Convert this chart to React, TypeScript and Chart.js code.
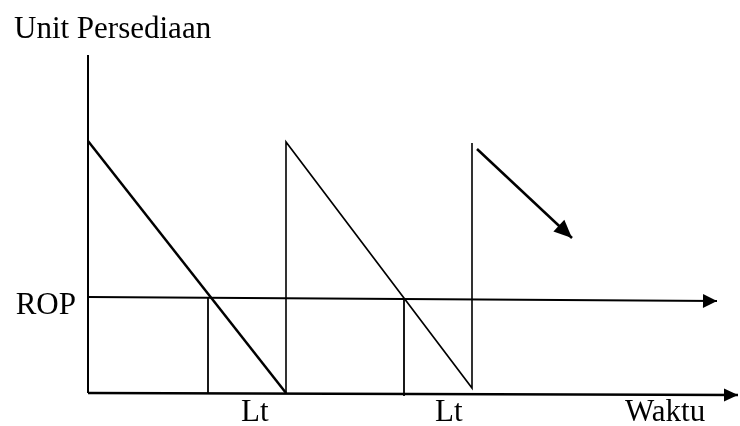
import React, { useEffect, useRef } from "react";
import { Chart, registerables } from "chart.js";

Chart.register(...registerables);

// Time (x) and inventory units (y) in abstract units
const cycleTimes = [0, 198, 198, 384, 384];
const inventoryLevels = [252, 0, 251, 5, 250];
const ropTimes = [0, 629];
const ropLevels = [96, 92];
const leadTimeStarts = [120, 316];
const leadTimeBottoms = [0, -3];
const leadTimeTops = [96, 95];
const leadTimeLabelTimes = [153, 347];
const leadTimeLabels = ["Lt", "Lt"];
const usageArrowTimes = [389, 484];
const usageArrowLevels = [244, 155];
const axisYTop = 338;
const axisXEnd = 650;
const axisXEndLevel = -2;
const yAxisTitle = "Unit Persediaan";
const xAxisTitle = "Waktu";
const ropLabel = "ROP";

const FONT = "31px 'Liberation Serif', 'Times New Roman', serif";

const pts = (xs: number[], ys: number[]) => xs.map((x, i) => ({ x, y: ys[i] }));

const lineDs = (data: any[], width: number, arrow?: { len: number; half: number }) => ({
  data,
  showLine: true,
  borderColor: "#000",
  backgroundColor: "#000",
  borderWidth: width,
  pointRadius: 0,
  pointHoverRadius: 0,
  fill: false,
  tension: 0,
  borderCapStyle: "butt",
  clip: false,
  arrow,
});

const diagramPlugin = {
  id: "diagram",
  afterDatasetsDraw(chart: any) {
    const ctx = chart.ctx;
    const xs = chart.scales.x;
    const ys = chart.scales.y;
    ctx.save();
    chart.data.datasets.forEach((ds: any, i: number) => {
      if (!ds.arrow) return;
      const meta = chart.getDatasetMeta(i);
      const n = meta.data.length;
      const a = meta.data[n - 2];
      const b = meta.data[n - 1];
      const ang = Math.atan2(b.y - a.y, b.x - a.x);
      const { len, half } = ds.arrow;
      ctx.beginPath();
      ctx.moveTo(b.x, b.y);
      ctx.lineTo(
        b.x - len * Math.cos(ang) + half * Math.sin(ang),
        b.y - len * Math.sin(ang) - half * Math.cos(ang)
      );
      ctx.lineTo(
        b.x - len * Math.cos(ang) - half * Math.sin(ang),
        b.y - len * Math.sin(ang) + half * Math.cos(ang)
      );
      ctx.closePath();
      ctx.fillStyle = "#000";
      ctx.fill();
    });
    ctx.fillStyle = "#000";
    ctx.font = FONT;
    ctx.textBaseline = "alphabetic";
    ctx.textAlign = "left";
    ctx.fillText(yAxisTitle, xs.getPixelForValue(-74), ys.getPixelForValue(355));
    ctx.fillText(xAxisTitle, xs.getPixelForValue(537), ys.getPixelForValue(-28));
    leadTimeLabels.forEach((t, i) => {
      ctx.fillText(t, xs.getPixelForValue(leadTimeLabelTimes[i]), ys.getPixelForValue(-28));
    });
    ctx.textAlign = "right";
    ctx.fillText(ropLabel, xs.getPixelForValue(-12), ys.getPixelForValue(79));
    ctx.restore();
  },
};

export default function App() {
  const ref = useRef<HTMLCanvasElement | null>(null);
  useEffect(() => {
    if (!ref.current) return;
    const chart = new Chart(ref.current, {
      type: "scatter",
      data: {
        datasets: [
          lineDs(pts([0, 0], [0, axisYTop]), 2),
          lineDs(pts([0, axisXEnd], [0, axisXEndLevel]), 2.5, { len: 14, half: 6.5 }),
          lineDs(pts(ropTimes, ropLevels), 2, { len: 14, half: 7 }),
          lineDs(pts(cycleTimes.slice(0, 2), inventoryLevels.slice(0, 2)), 2.5),
          lineDs(pts(cycleTimes.slice(1), inventoryLevels.slice(1)), 1.6),
          ...leadTimeStarts.map((t, i) =>
            lineDs(pts([t, t], [leadTimeBottoms[i], leadTimeTops[i]]), 1.8)
          ),
          lineDs(pts(usageArrowTimes, usageArrowLevels), 2.5, { len: 18, half: 8 }),
        ] as any,
      },
      options: {
        responsive: false,
        animation: false,
        devicePixelRatio: 1,
        events: [],
        layout: { padding: 0 },
        plugins: { legend: { display: false }, tooltip: { enabled: false }, title: { display: false } },
        scales: {
          x: { type: "linear", min: -88, max: 652, display: false },
          y: { type: "linear", min: -33, max: 393, display: false },
        },
      } as any,
      plugins: [diagramPlugin],
    });
    return () => chart.destroy();
  }, []);
  return (
    <div style={{ position: "fixed", left: 0, top: 0, width: 740, height: 426, background: "#fff" }}>
      <canvas ref={ref} width={740} height={426} style={{ display: "block" }} />
    </div>
  );
}
